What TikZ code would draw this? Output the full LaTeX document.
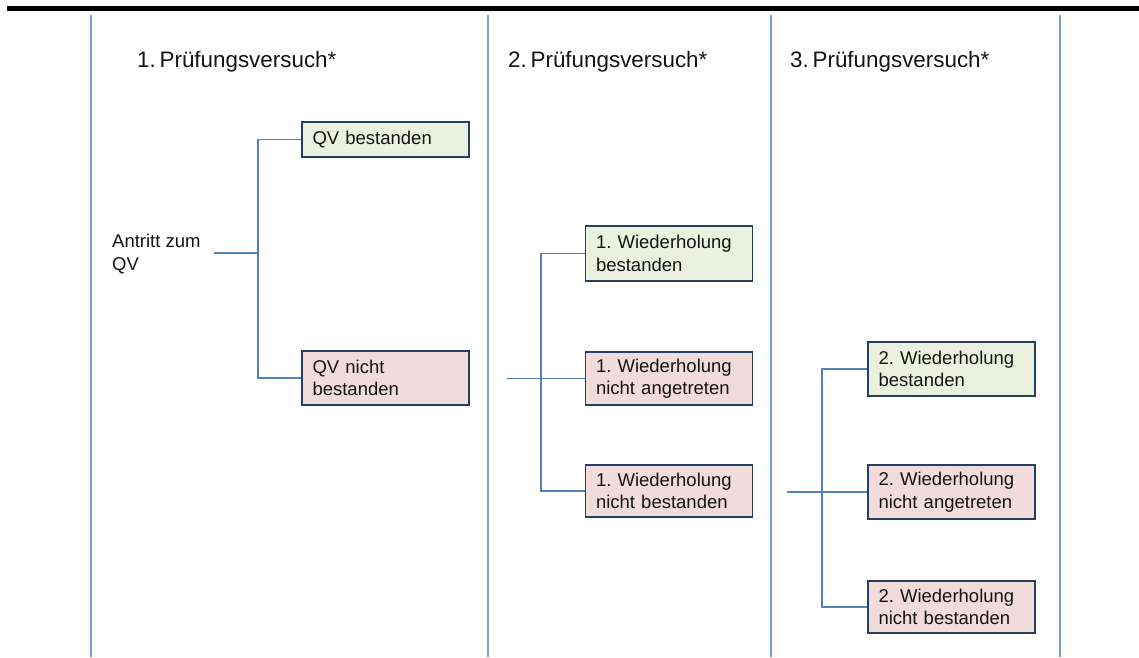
\documentclass[tikz,border=0pt]{standalone}
\usepackage{fontspec}
\setmainfont{Liberation Sans}
\frenchspacing
\definecolor{sepcol}{HTML}{7A9CCF}
\definecolor{conncol}{HTML}{4F81BD}
\definecolor{boxline}{HTML}{243F60}
\definecolor{okfill}{HTML}{EBF1DE}
\definecolor{nofill}{HTML}{F2DCDB}
\definecolor{txt}{HTML}{141414}
\tikzset{
  sepline/.style={draw=sepcol, line width=1.6pt},
  conn/.style={draw=conncol, line width=1.6pt},
  basebox/.style={draw=boxline, line width=1.8pt, rectangle, minimum width=167pt,
    text width=146pt, inner xsep=10.5pt, inner ysep=0pt, align=left, anchor=center,
    font=\fontsize{18.5}{22.5}\selectfont, text=txt},
  okbox/.style={basebox, fill=okfill},
  nobox/.style={basebox, fill=nofill},
  heading/.style={anchor=base west, inner sep=0pt, font=\fontsize{22.4}{27}\selectfont, text=txt},
  plain/.style={anchor=west, inner sep=0pt, align=left, font=\fontsize{18.5}{22.5}\selectfont, text=txt}
}
\begin{document}
\begin{tikzpicture}[x=1pt,y=-1pt]
\useasboundingbox (0,0) rectangle (1139,657);
% top bar
\fill[black] (7,6) rectangle (1139,11);
% separators
\foreach \x in {91,488,771,1060} \draw[sepline] (\x,15) -- (\x,657);
% headings
\node[heading] (h1) at (137,67) {1.\,Prüfungsversuch*};
\node[heading] (h2) at (508,67) {2.\,Prüfungsversuch*};
\node[heading] (h3) at (790,67) {3.\,Prüfungsversuch*};
% start
\node[plain] (a) at (112,254) {Antritt zum\\QV};
% column 1
\node[okbox, minimum height=35pt] (qvb) at (385.5,139.5) {QV bestanden};
\node[nobox, minimum height=54pt] (qvn) at (385.5,378) {QV nicht\\bestanden};
% column 2
\node[okbox, minimum height=55pt] (w1b) at (669,253.5) {1. Wiederholung\\bestanden};
\node[nobox, minimum height=53pt] (w1n) at (669,378.5) {1. Wiederholung\\nicht angetreten};
\node[nobox, minimum height=52pt] (w1nb) at (669,491) {1. Wiederholung\\nicht bestanden};
% column 3
\node[okbox, minimum height=54pt] (w2b) at (951.5,369) {2. Wiederholung\\bestanden};
\node[nobox, minimum height=54pt] (w2n) at (951.5,492) {2. Wiederholung\\nicht angetreten};
\node[nobox, minimum height=52pt] (w2nb) at (951.5,607) {2. Wiederholung\\nicht bestanden};
% connector points
\coordinate (s1) at (214,253);
\coordinate (j1) at (258,253);
\coordinate (s2) at (507,378.5);
\coordinate (j2) at (541,378.5);
\coordinate (s3) at (787,492);
\coordinate (j3) at (822,492);
% connectors
\draw[conn] (s1) -- (j1);
\draw[conn] (qvb.west) -| (j1) |- (qvn.west);
\draw[conn] (s2) -- (w1n.west);
\draw[conn] (w1b.west) -| (j2) |- (w1nb.west);
\draw[conn] (s3) -- (w2n.west);
\draw[conn] (w2b.west) -| (j3) |- (w2nb.west);
\end{tikzpicture}
\end{document}
